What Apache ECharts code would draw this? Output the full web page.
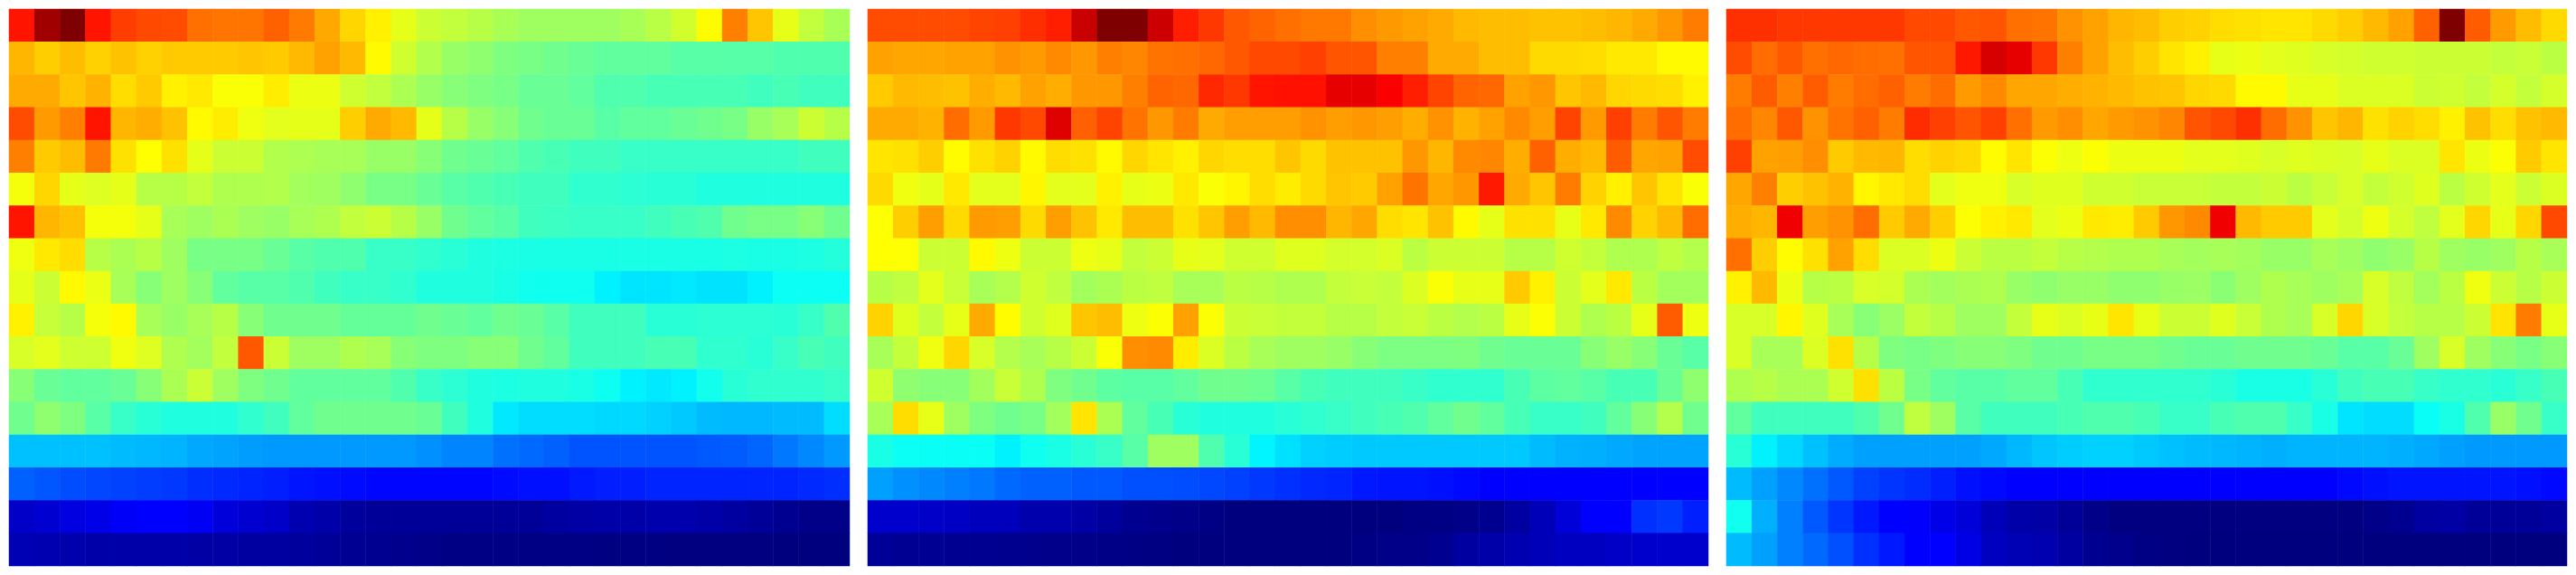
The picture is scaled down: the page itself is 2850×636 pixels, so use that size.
<!DOCTYPE html>
<html>
<head>
<meta charset="utf-8">
<style>html,body{margin:0;padding:0;background:#fff}#c{width:2850px;height:636px}</style>
<script src="https://cdn.jsdelivr.net/npm/echarts@6/dist/echarts.min.js"></script>
</head>
<body>
<div id="c"></div>
<script>
const columnLabels = ['0','1','2','3','4','5','6','7','8','9','10','11','12','13','14','15','16','17','18','19','20','21','22','23','24','25','26','27','28','29','30','31','32'];
const rowLabels = ['0','1','2','3','4','5','6','7','8','9','10','11','12','13','14','15','16'];

const panelLeft = [
[85.5,96.8,100,85.5,81.5,80.4,80,76.5,76,76,78,75.5,71,66.5,63.9,60,57.5,56.5,55.5,54,53.1,53.1,53.1,53.1,54,55.7,58,62.8,74.9,68.1,60.2,56.5,54],
[69.6,67.3,68.9,67,68.5,67,67.7,67.7,67.7,68.1,67.7,69.2,71.6,69.2,63,57.9,55,52.4,51.6,50,49.3,48.5,47.8,47,47,47,46.2,46.2,46,46,45.4,45.4,45.4],
[70.8,70.8,68.1,70,65.8,67.7,63.9,64.6,62,62,64.3,60.6,60.6,57.9,56.5,54.5,52.4,50.8,50,49.3,47.8,47.8,47,45.4,45.4,44.6,44.6,44.6,44.6,43.8,44.6,43.8,43.8],
[80,72.3,74.9,85.5,69.6,70.4,68.5,63,64.3,61,59.8,60,60,67.3,70.8,69.2,60,55.5,52.4,50.8,48.5,47.8,47.8,46.2,47,47,47.8,48.5,49.3,52.4,53.9,57.5,55.5],
[74.9,67.7,68.9,75.5,65.4,62.5,65.4,60,57.5,57.5,55,54.5,53.9,53.9,52.4,52.4,50.8,48.5,47.8,47,45.4,44.6,43.8,43.8,43,43,43,43,43,43,43,43.8,43.8],
[61.5,66.5,60,59.3,60,55.5,55.5,56.7,54.7,54.7,55,53.5,53.1,51.6,49.3,49.3,47.8,46.2,45.4,44.6,43.8,43.8,42.2,42.2,41.8,41.4,41.4,40.6,40.6,40.6,40.6,40.6,40.6],
[85.5,69.6,68.5,61.5,61.5,60,53.9,53.1,54.3,53.1,52.4,53.9,54.7,56.5,57.5,55.5,52.4,48.5,47,46.2,43.8,43.4,43,43,43,43.8,44.6,45.4,48.5,49.3,49.3,50.8,48.5],
[61,64.6,65.8,55.5,54.3,55.5,53.1,49.3,49.3,49.3,47.8,46.2,45.4,45.4,43,43,42.2,41.4,40.6,40.3,40,40,40,40,40,40,40,40,40.3,40,40,40.3,41],
[60,57.5,63,60.5,53.9,50.8,53.1,50.8,47,46.2,46.2,45.4,43.8,43,43,42.2,40.6,40.6,40.6,39.9,39.1,39,39,36.2,35,35,35.4,34.8,34.8,36.2,38.6,38.6,38.6],
[63.9,57,55.5,61.5,63,53.9,52.4,53.9,55.5,50.8,48.5,48.5,48.5,47.4,47.4,47.4,48.5,47.8,47,48.5,47.8,46.2,43.8,43.8,43.8,41.4,41.4,41.8,41.8,41.8,41.4,43,45.4],
[58.7,59.8,57.7,57.7,61,59.3,54.7,53.5,56.5,78.8,57.3,53.1,53.1,54.7,53.9,50.8,50,50,50.8,50.8,48.5,47,43.8,43.8,43.8,44.6,44.6,42.2,42.2,41.4,43,44.6,43.8],
[50.8,47.8,47,47,47.8,50.8,54.3,57.3,53.1,50,48.5,47,47,47,47,45.4,43,41.8,40.6,40.3,40.6,40.6,39.9,38.8,36.2,35.4,36.2,39.3,41.4,42.2,42.2,42.2,43],
[48.5,51.6,50,46.2,43,41.4,40.6,40.6,40.6,42.2,43.8,47,48.5,48.5,48.5,48.5,47.8,43.8,40.6,35.4,34.2,34.2,34.2,33.8,33.8,33,32.2,31,30.6,30.6,31,31,34.2],
[31.4,31.4,31.4,31.4,31,30.6,30.2,29,28.6,27.9,27.5,27.5,27.5,27.5,27.5,27.5,26.7,25.5,25.5,23.5,22.8,22,20.8,20.8,20.8,20.8,20.8,21.2,21.6,22.4,24.3,25.9,27.5],
[22,21,20,19.5,19,18.5,18,17,16.5,16,15.5,14.5,14,13.5,13,13,13,13,13,13.5,14,14,15,15.5,15.5,16,16,16,16,16,16,16.5,17],
[7.1,7.9,9.5,10.3,11.8,12.5,12.5,11.4,9,7.9,7.1,4.8,4,2.8,2.4,2.4,2.4,2.4,2.4,2.4,2.4,3.2,3.6,4,4,4.4,4.4,4,3.2,2.4,1.7,0.9,0.9],
[5.2,4.8,4.4,4,4,4,4,3.6,3.6,3.2,3.2,2.8,2.4,2,1.7,1.3,0.9,0.5,0.5,0.5,0.5,0.5,0.5,0.3,0.3,0.3,0.2,0.1,0.1,0.1,0,0,0]
];

const panelMiddle = [
[80,80,80,80,80.8,81.2,83,84.4,92.9,100,100,92.5,84.4,82,78.8,77.7,76.5,75.7,75.7,73.5,72.5,71.6,70.8,69.2,68.9,68.9,68.5,68.5,68.9,69.6,70.8,72.7,75.3],
[71.6,71.2,71.2,71.6,71.6,73.1,72.3,73.9,72.7,74.9,74.3,76.1,76.5,77.3,78.8,80.4,80.4,81.2,79.2,79.2,74.9,74.9,70.8,70.8,68.9,68.9,66.1,66.1,65.8,64.6,64.6,63,63],
[67.7,69.2,68.9,68.5,70.4,69.2,71.6,70.4,72.7,72.7,74.9,77.7,77.3,83.6,82,85.5,85.9,85.9,89.8,89.8,88,84.4,80.8,77.7,77.3,71.6,72.7,68.1,69.2,66.5,66.1,65.8,63.9],
[70.8,70.8,70,76.9,72.3,82,80.4,90.6,78,80.8,76.1,72.7,75.3,70.8,72,72,72,73.1,72,72.7,72,70.4,73.1,70,71.6,73.9,72,80.8,72.3,81.2,75.3,79.2,75.3],
[65,65.4,67.3,62.8,65.4,66.9,63,65.8,65.4,63,66.5,65,63.9,66.5,65.8,65.8,68.1,66.1,68.5,68.5,68.5,72.7,69.6,73.9,74.3,70.4,78,70.4,69.2,78.4,71.2,71.6,80],
[66.1,61,60,64.6,59.8,59.8,63.4,59.8,59.8,63.9,60.2,60.6,64.6,62,63.4,65.8,64.3,66.1,68.1,67.7,71.6,76.1,71.2,72.7,85,70.8,68.1,75.3,66.9,63.9,68.1,65,62],
[62.3,67.3,72,66.1,72.3,72,66.1,72,68.5,64.6,68.9,68.9,65.4,68.1,72,69.2,73.5,73.5,69.6,71.2,65.8,65,68.5,63,60.2,65.4,65.4,60.2,64.6,73.9,66.9,69.2,76.9],
[62.5,62.3,57.5,57.5,63,60.8,57.5,57.5,60.8,60.2,56.7,57.5,60.2,59.8,57.9,57.9,59.4,59.4,58.3,58.3,59.1,55.9,57.5,57.5,57.5,55.5,55.5,57.9,56.7,54.7,54.7,56.3,55.1],
[55.5,56.3,59.8,57.1,53.9,55.1,57.9,56.3,53.5,54.3,55.9,56.3,53.9,53.9,55.9,55.5,54.7,54.7,56.7,57.1,56.7,59.1,62,60.2,60.2,67.7,63.9,57.5,59.8,64.6,55.9,53.5,53.5],
[66.9,59.4,56.7,60.2,70.8,62.8,57.9,59.4,68.1,68.9,60.8,62.2,71.6,62.2,57.5,57.1,56.7,56.7,55.5,55.5,56.7,57.1,55.9,55.1,55.9,60.2,62.2,57.5,54.7,55.9,60.2,78.4,60.8],
[53.9,56.7,61,66.5,58.7,55.1,53.9,55.5,57.5,62,73.5,73.9,64.3,59.1,55.9,53.9,53.1,53.1,52.4,50.8,49.7,49.7,49.7,50,48.5,47.8,47.8,47.8,50.8,52.4,50.8,47.8,46.2],
[57.9,51.6,50.8,50.8,53.5,57.1,54.7,50,48.5,46.6,46.2,46.2,47,48.5,48.5,48.1,46.2,44.6,43.8,43.8,43.8,43,42.2,42.2,42.2,44.6,46.6,47,46.2,44.6,44.6,47.8,51.6],
[53.9,65.8,60.2,53.1,50,48.5,49.3,53.5,65,54.3,47,44.6,41.4,40.6,40.6,40.6,41.4,42.2,43,43.8,44.6,45.4,47,48.5,47,44.6,43,43,43.8,47,50.8,55.1,48.5],
[39.9,38.6,38.4,38.4,38.4,36.2,39,39.9,41.4,43,46.2,53.1,53.1,45.4,41.4,36.5,34.6,33,32.6,32.2,32.2,32.2,32.2,32.2,32.2,32.2,31,30,29.8,29,28.6,28.6,28.6],
[28.2,26.7,25.9,25.1,24.3,22.8,22,22,21.2,21.2,20.4,20.4,20,19.6,18.8,18,17.2,16.4,16,14.9,14.5,14.5,14.1,13.3,12.5,12.5,12.5,12.5,12.5,12.5,12.5,12.5,12.5],
[7.5,7.5,7.1,6.7,6,6,4.4,4.4,3.6,2.8,1.7,1.3,0.9,0.5,0,0,0,0,0,0,0,0.5,0.5,1,1.7,3.2,5.6,8.7,12.5,12.5,17.2,18,15.6],
[2.4,2,2,1.7,1.7,1.5,1.3,1.1,0.9,0.7,0.5,0.3,0,0,0,0,0,0,0,0.5,0.9,0.9,1.7,3.2,4,4.8,5.6,6.3,6.3,7,7.5,7.5,7.5]
];

const panelRight = [
[82.8,82.8,82,82,82,82,82,80.4,80.4,78.8,79.2,76.5,76.1,73.1,71.6,69.6,68.9,67.3,66.9,65.8,65.4,65,65,66.1,67.3,69.2,71.6,78,100,78.4,72.3,68.9,66.1],
[80,76.9,78.8,76.5,77.3,76.9,76.5,79.2,79.2,85.1,91.4,89.8,82,74.9,71.6,68.9,67.3,65,63.9,60.2,60.6,59.8,59.4,58.7,58.3,57.9,57.9,57.5,57.5,57.5,56.7,57.1,55.9],
[75.3,78.4,74.9,78.4,75.3,76.9,78,75.3,76.9,72.3,73.9,71.2,71.2,70.4,70,69.2,68.5,68.1,66.5,66.1,63,63,60.2,60.2,59.1,59.1,59.1,57.5,57.9,56.7,58.3,56.7,58.3],
[76.9,74.3,78.8,73.1,76.1,78,75.3,83.2,81.2,79.2,81.2,76.5,72.3,73.5,71.2,72.3,73.1,74.3,79.2,80.4,82.8,76.9,73.1,68.1,69.6,65.4,66.9,65.8,63.9,68.5,65.8,68.5,69.2],
[81.2,71.6,72,73.5,67.7,69.2,69.6,65.8,66.9,66.1,62.8,65,62.2,60.8,62.2,60.6,60.6,60.6,59.8,59.8,59.4,58.7,59.4,59.1,58.7,60.2,59.1,59.1,65,60.6,62.2,67.7,65],
[71.2,74.9,67.3,68.5,70,63.4,64.6,65.8,59.8,61,61,58.7,59.4,59.4,57.9,57.9,57.1,57.1,57.1,56.7,56.7,57.5,55.9,57.1,58.7,56.7,57.9,59.4,55.9,57.9,59.8,57.5,59.1],
[70.4,69.6,89,72,73.1,76.9,67.7,70.8,67.3,62.2,63.9,64.6,59.8,60.6,64.6,64.3,67.7,72.7,73.9,89,69.2,67.7,67.7,59.8,58.3,60.8,58.3,56.3,59.8,66.5,60.2,66.5,80.4],
[76.5,67.3,62.8,65.4,71.6,65.8,59.1,59.1,60.6,57.5,55.9,55.9,56.7,55.5,55.1,54.7,54.7,53.9,53.5,53.9,53.5,52.4,52.4,53.9,53.1,51.6,52.4,55.5,53.1,52.4,53.1,55.5,53.9],
[63.9,69.2,60.6,55.5,55.9,58.7,58.3,54.3,53.5,54.3,54.7,52.4,51.6,52.4,52.4,51.6,51.6,52.4,52.8,51.2,53.1,54.7,53.9,53.1,53.9,58.7,56.3,53.5,55.9,61,57.5,55.5,57.5],
[58.7,58.7,63.4,59.4,53.9,50.8,52.8,56.7,55.5,53.1,53.1,56.7,60.2,59.1,60.2,65,60.2,57.5,57.5,59.4,57.1,54.7,53.9,58.7,66.5,58.7,56.7,55.5,55.5,57.5,65,75.3,60.2],
[58.7,53.9,53.9,59.1,65.4,55.5,50,49.3,50,50.8,50.8,50,48.5,48.5,49.3,49.3,49.3,48.5,47.8,47.8,48.5,48.5,48.5,47.8,46.2,46.2,47.8,53.1,58.7,53.1,50.8,49.3,50.8],
[54.7,55.5,54.3,54.3,57.9,65.4,55.9,49.3,47,46.2,46.2,47,47,44.6,42.2,42.2,42.2,42.2,42.2,41.4,40,39.9,39.9,41.4,43.8,44.6,44.6,43,42.2,42.2,41.4,43,44.6],
[47,43.8,43.8,43.8,43.8,45.4,48.5,56.3,53.1,46.2,43.8,43.8,43.8,44.6,45.4,45.4,44.6,43,43,44.6,45.4,45.4,43,39.9,35,34.2,34.2,38.4,39.9,45.4,52.4,48.5,43],
[41.4,36.2,33.8,31.4,29.4,28.2,28.2,28.2,28.2,28.2,29,30.6,31.8,32.6,33,33,32.2,31.4,31,30.6,30.2,29.8,30.2,30.2,30.2,30.2,29.8,29,28.2,27.5,27.5,27.5,27.5],
[31,28.2,25.9,23.5,21.2,18.8,17.6,16.8,15.6,14.1,13.3,12.5,12.5,12.5,12.5,12.5,12.5,12.5,12.5,12.5,12.5,12.5,12.5,12.5,13.3,14.1,14.5,14.5,14.5,14.5,14.5,14,13.3],
[39.1,29.8,25.1,21.2,17.6,14.9,12.5,12.2,10.3,8.7,5.6,4,3.6,2.4,0.9,0.1,0.1,0.1,0.1,0.1,0.1,0.1,0.1,0.1,0.1,0.9,1.7,3.2,3.6,2.4,2.4,2.4,3.2],
[31,28.2,25.1,22.8,20.4,17.2,14.9,12.5,12.5,9.9,6.3,5.2,4.8,3.2,1.7,1.3,0.5,0.2,0,0,0,0,0,0,0,0,0,0,0,0,0,0,0]
];

const panels = [panelLeft, panelMiddle, panelRight];
const panelLefts = [10, 960, 1910];
const jet = ['#00007f','#0000ff','#007fff','#00ffff','#7fff7f','#ffff00','#ff7f00','#ff0000','#7f0000'];

const chart = echarts.init(document.getElementById('c'), null, {renderer: 'canvas'});
chart.setOption({
  animation: false,
  backgroundColor: '#ffffff',
  grid: panels.map((_, i) => ({left: panelLefts[i], top: 10, width: 930, height: 616, containLabel: false})),
  xAxis: panels.map((_, i) => ({type: 'category', gridIndex: i, data: columnLabels, show: false})),
  yAxis: panels.map((_, i) => ({type: 'category', gridIndex: i, data: rowLabels, inverse: true, show: false})),
  visualMap: {show: false, type: 'continuous', min: 0, max: 100, calculable: false, inRange: {color: jet}, seriesIndex: [0, 1, 2]},
  series: panels.map((rows, i) => ({
    type: 'heatmap',
    xAxisIndex: i,
    yAxisIndex: i,
    progressive: 0,
    emphasis: {disabled: true},
    data: rows.flatMap((row, y) => row.map((v, x) => [x, y, v]))
  }))
});
</script>
</body>
</html>
